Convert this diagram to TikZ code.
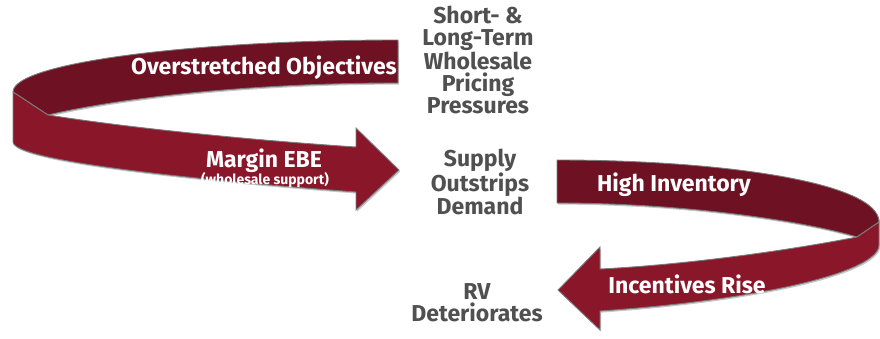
\documentclass[tikz,border=0pt]{standalone}
\usepackage{fontspec}
\setmainfont{Fira Sans}
\usetikzlibrary{shadows}
\definecolor{ribdark}{RGB}{110,17,34}
\definecolor{ribbright}{RGB}{138,22,42}
\definecolor{txtgray}{RGB}{80,80,80}
\definecolor{edgegray}{RGB}{125,125,125}
\tikzset{
  ribbon/.style={draw=edgegray, line width=0.9pt, line join=miter,
    drop shadow={shadow xshift=1.2pt, shadow yshift=-1.6pt, opacity=0.22, fill=black}},
  backband/.style={ribbon, fill=ribdark},
  frontband/.style={ribbon, fill=ribbright},
  whitelabel/.style={text=white, font=\fontsize{23}{25}\selectfont\bfseries, inner sep=0pt},
  smallwhite/.style={text=white, font=\fontsize{14}{16}\selectfont\bfseries, inner sep=0pt},
  graylabel/.style={text=txtgray, align=center, font=\fontsize{23}{22.3}\selectfont\bfseries, inner sep=0pt}
}
\begin{document}
\begin{tikzpicture}[x=1pt, y=-1pt]
\useasboundingbox (0,0) rectangle (880,338);
% left ribbon: back band
\path[backband] (398,40) .. controls (200,40) and (13,62) .. (13,92)
  -- (48,115) .. controls (120,98) and (250,83) .. (398,83) -- cycle;
% left ribbon: front band with arrowhead
\path[frontband] (13,92) -- (48,115) .. controls (130,128) and (250,140) .. (356,147)
  -- (356,128) -- (399,170) -- (356,210) -- (356,192)
  .. controls (220,182) and (13,162) .. (13,142) -- cycle;
% right ribbon: back band
\path[backband] (557,160) .. controls (720,160) and (879,182) .. (879,222)
  -- (857,237) .. controls (800,220) and (680,203) .. (557,203) -- cycle;
% right ribbon: front band with arrowhead
\path[frontband] (879,222) -- (857,237) .. controls (780,252) and (680,265) .. (600,269)
  -- (600,247) -- (558,290) -- (600,330) -- (600,311)
  .. controls (760,300) and (879,272) .. (879,245) -- cycle;
% labels on ribbons
\node[whitelabel] (over) at (264,68) {Overstretched Objectives};
\node[whitelabel] (margin) at (264,161) {Margin EBE};
\node[smallwhite] (whs) at (265,180) {(wholesale support)};
\node[whitelabel] (high) at (674,185) {High Inventory};
\node[whitelabel] (incent) at (687,284) {Incentives Rise};
% gray labels
\node[graylabel] (short) at (478,60) {Short- \&\\Long-Term\\Wholesale\\Pricing\\Pressures};
\node[graylabel] (supply) at (480,182) {Supply\\Outstrips\\Demand};
\node[graylabel] (rv) at (477,303) {RV\\Deteriorates};
\end{tikzpicture}
\end{document}
